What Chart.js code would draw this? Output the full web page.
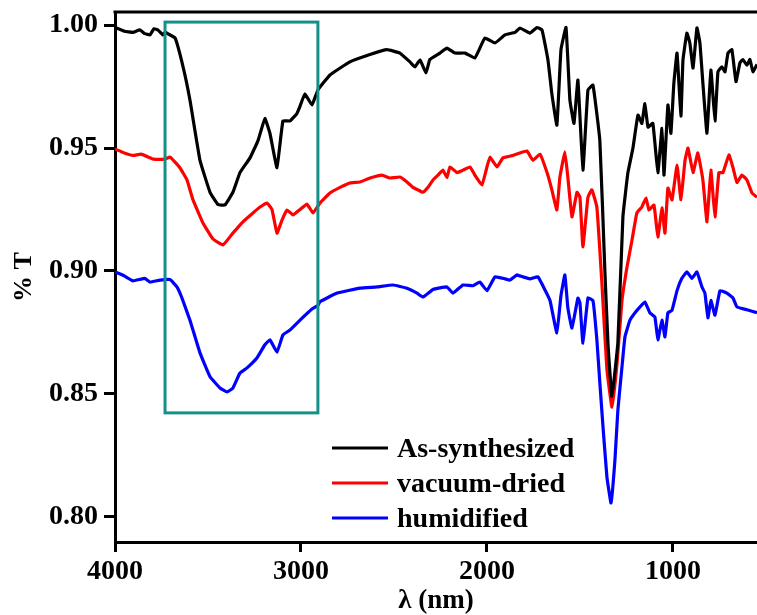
<!DOCTYPE html>
<html lang="en">
<head>
    <meta charset="UTF-8">
    <title>% T spectra</title>
    <script src="https://cdn.jsdelivr.net/npm/chart.js"></script>
    <style>
        html, body { margin: 0; padding: 0; background: #fff; }
        #wrap { width: 757px; height: 615px; }
    </style>
</head>
<body>
<div id="wrap"><canvas id="spectra" width="757" height="615"></canvas></div>
<script>
    // wavenumber / transmittance
    const seriesNames = ['As-synthesized', 'vacuum-dried', 'humidified'];
    const seriesColors = ['#000000', '#ff0000', '#0000ff'];

    const wnBlack = [4000, 3950, 3903, 3866, 3840, 3812, 3790, 3769, 3742, 3731, 3677, 3634, 3597, 3543, 3489, 3446, 3409, 3366, 3328, 3274, 3231, 3194, 3167, 3129, 3097, 3059, 3022, 3005, 2979, 2941, 2909, 2844, 2737, 2629, 2538, 2468, 2414, 2387, 2360, 2328, 2307, 2253, 2215, 2172, 2118, 2065, 2011, 1957, 1903, 1849, 1823, 1769, 1731, 1704, 1672, 1651, 1624, 1602, 1575, 1554, 1532, 1511, 1484, 1457, 1430, 1393, 1366, 1349, 1328, 1296, 1269, 1242, 1215, 1188, 1167, 1151, 1134, 1108, 1081, 1059, 1048, 1027, 1011, 995, 978, 957, 946, 925, 909, 892, 871, 855, 839, 817, 796, 774, 758, 737, 720, 704, 683, 661, 640, 624, 602, 586, 570, 548];
    const tBlack = [0.999, 0.9975, 0.997, 0.998, 0.9965, 0.996, 0.9985, 0.998, 0.996, 0.997, 0.9947, 0.983, 0.9695, 0.945, 0.932, 0.927, 0.9268, 0.932, 0.940, 0.946, 0.953, 0.962, 0.956, 0.942, 0.961, 0.961, 0.964, 0.967, 0.972, 0.9675, 0.9736, 0.9797, 0.985, 0.988, 0.990, 0.9886, 0.985, 0.983, 0.9858, 0.9805, 0.986, 0.9886, 0.9906, 0.9886, 0.9886, 0.9866, 0.9947, 0.9927, 0.996, 0.997, 0.9988, 0.9967, 0.999, 0.998, 0.9858, 0.972, 0.9593, 0.990, 0.999, 0.9695, 0.960, 0.9776, 0.941, 0.9736, 0.9756, 0.953, 0.900, 0.870, 0.849, 0.871, 0.922, 0.940, 0.950, 0.9634, 0.960, 0.968, 0.9585, 0.960, 0.940, 0.958, 0.939, 0.9675, 0.956, 0.9764, 0.9886, 0.963, 0.9858, 0.9967, 0.9927, 0.9825, 0.9988, 0.9927, 0.9764, 0.956, 0.9817, 0.961, 0.981, 0.983, 0.981, 0.9886, 0.990, 0.977, 0.9846, 0.986, 0.9837, 0.986, 0.981, 0.984];

    const wnRed = [4000, 3950, 3903, 3860, 3812, 3796, 3731, 3704, 3651, 3613, 3581, 3527, 3473, 3419, 3366, 3312, 3258, 3220, 3183, 3156, 3129, 3102, 3075, 3043, 3005, 2968, 2935, 2898, 2844, 2790, 2737, 2683, 2629, 2565, 2522, 2468, 2430, 2398, 2371, 2344, 2317, 2290, 2263, 2237, 2215, 2199, 2161, 2129, 2091, 2065, 2027, 2000, 1984, 1946, 1914, 1860, 1823, 1785, 1753, 1715, 1677, 1651, 1624, 1608, 1581, 1565, 1543, 1516, 1500, 1484, 1457, 1436, 1409, 1382, 1355, 1328, 1301, 1274, 1247, 1220, 1194, 1167, 1145, 1129, 1102, 1081, 1059, 1043, 1027, 1005, 978, 957, 935, 919, 892, 866, 839, 817, 796, 774, 753, 731, 699, 677, 656, 629, 602, 575, 548];
    const tRed = [0.9496, 0.948, 0.947, 0.9475, 0.946, 0.9455, 0.9455, 0.9463, 0.942, 0.937, 0.929, 0.9195, 0.913, 0.9106, 0.9154, 0.920, 0.9236, 0.926, 0.9276, 0.925, 0.9154, 0.9207, 0.9248, 0.9228, 0.925, 0.9272, 0.9236, 0.9276, 0.9317, 0.934, 0.9358, 0.9362, 0.9378, 0.939, 0.9378, 0.9382, 0.9362, 0.934, 0.933, 0.932, 0.934, 0.937, 0.939, 0.941, 0.938, 0.9423, 0.940, 0.941, 0.9423, 0.939, 0.935, 0.9423, 0.9463, 0.9423, 0.946, 0.947, 0.948, 0.9488, 0.945, 0.9475, 0.940, 0.933, 0.9248, 0.938, 0.9484, 0.938, 0.922, 0.932, 0.930, 0.9098, 0.930, 0.933, 0.926, 0.895, 0.860, 0.8447, 0.862, 0.888, 0.9016, 0.9126, 0.9236, 0.926, 0.9297, 0.9248, 0.9268, 0.9138, 0.9256, 0.9154, 0.9337, 0.9289, 0.943, 0.929, 0.945, 0.950, 0.940, 0.948, 0.937, 0.920, 0.941, 0.922, 0.940, 0.940, 0.9472, 0.942, 0.936, 0.939, 0.937, 0.9317, 0.930];

    const wnBlue = [4000, 3950, 3903, 3840, 3812, 3758, 3704, 3667, 3640, 3597, 3543, 3489, 3435, 3398, 3366, 3328, 3290, 3237, 3194, 3167, 3129, 3097, 3059, 3005, 2941, 2909, 2898, 2806, 2683, 2591, 2505, 2430, 2376, 2344, 2290, 2215, 2183, 2129, 2075, 2038, 2000, 1957, 1903, 1876, 1839, 1823, 1769, 1726, 1688, 1661, 1624, 1602, 1581, 1565, 1543, 1511, 1500, 1484, 1457, 1430, 1409, 1393, 1376, 1355, 1333, 1312, 1296, 1274, 1258, 1231, 1204, 1177, 1151, 1124, 1097, 1081, 1059, 1043, 1027, 1005, 978, 952, 925, 898, 871, 844, 828, 812, 796, 774, 747, 710, 677, 656, 602, 548];
    const tBlue = [0.8996, 0.898, 0.896, 0.897, 0.8955, 0.8963, 0.8965, 0.8935, 0.889, 0.880, 0.8667, 0.857, 0.8524, 0.8508, 0.8524, 0.8585, 0.8606, 0.8646, 0.870, 0.872, 0.867, 0.874, 0.876, 0.880, 0.8845, 0.886, 0.8875, 0.891, 0.893, 0.8935, 0.8943, 0.893, 0.891, 0.8894, 0.8925, 0.8935, 0.891, 0.8943, 0.894, 0.8955, 0.892, 0.8976, 0.8968, 0.8963, 0.8984, 0.898, 0.8968, 0.8976, 0.8923, 0.888, 0.8748, 0.890, 0.8984, 0.885, 0.8768, 0.889, 0.887, 0.8707, 0.889, 0.888, 0.872, 0.8545, 0.8366, 0.8163, 0.8057, 0.823, 0.8435, 0.861, 0.8732, 0.880, 0.883, 0.8854, 0.8874, 0.883, 0.8813, 0.872, 0.880, 0.8732, 0.883, 0.884, 0.892, 0.897, 0.8996, 0.897, 0.8996, 0.8935, 0.891, 0.881, 0.888, 0.882, 0.892, 0.891, 0.889, 0.8854, 0.8842, 0.883];

    const xTicks = [4000, 3000, 2000, 1000];
    const yTicks = [0.80, 0.85, 0.90, 0.95, 1.00];
    const xRange = [548, 4000];
    const yRange = [0.7898, 1.0053];

    // highlighted O-H region (teal box)
    const boxX = [3731, 2909];
    const boxY = [0.8423, 1.0012];

    const serif = "'Liberation Serif', 'Times New Roman', serif";

    function pairs(xs, ys) {
        return xs.map((x, i) => ({ x: x, y: ys[i] }));
    }

    const frameAndBox = {
        id: 'frameAndBox',
        afterDatasetsDraw(chart) {
            const ctx = chart.ctx;
            const a = chart.chartArea;
            const xs = chart.scales.x, ys = chart.scales.y;
            ctx.save();
            // top frame line
            ctx.strokeStyle = '#000';
            ctx.lineWidth = 3;
            ctx.beginPath();
            ctx.moveTo(a.left - 1.5, a.top);
            ctx.lineTo(a.right, a.top);
            ctx.stroke();
            // teal box
            const x1 = xs.getPixelForValue(boxX[0]), x2 = xs.getPixelForValue(boxX[1]);
            const y1 = ys.getPixelForValue(boxY[1]), y2 = ys.getPixelForValue(boxY[0]);
            ctx.strokeStyle = '#14908a';
            ctx.lineWidth = 3;
            ctx.strokeRect(x1, y1, x2 - x1, y2 - y1);
            ctx.restore();
        }
    };

    const legendBox = {
        id: 'legendBox',
        afterDraw(chart) {
            const ctx = chart.ctx;
            const a = chart.chartArea;
            const lx = a.left + 217, lw = 56, top = a.top + 436, gap = 35;
            ctx.save();
            ctx.font = 'bold 28px ' + serif;
            ctx.textBaseline = 'alphabetic';
            ctx.textAlign = 'left';
            chart.data.datasets.forEach((ds, i) => {
                const y = top + i * gap;
                ctx.strokeStyle = ds.borderColor;
                ctx.lineWidth = 3;
                ctx.beginPath();
                ctx.moveTo(lx, y);
                ctx.lineTo(lx + lw, y);
                ctx.stroke();
                ctx.fillStyle = '#000';
                ctx.fillText(ds.label, lx + lw + 9, y + 9);
            });
            ctx.restore();
        }
    };

    const tickFont = { family: serif, size: 28, weight: 'bold' };

    new Chart(document.getElementById('spectra'), {
        type: 'line',
        data: {
            datasets: [
                { label: seriesNames[0], data: pairs(wnBlack, tBlack), borderColor: seriesColors[0] },
                { label: seriesNames[1], data: pairs(wnRed, tRed), borderColor: seriesColors[1] },
                { label: seriesNames[2], data: pairs(wnBlue, tBlue), borderColor: seriesColors[2] }
            ]
        },
        options: {
            responsive: false,
            animation: false,
            layout: { padding: { top: 12, right: 0, left: 0, bottom: 0 } },
            elements: {
                line: { borderWidth: 3.2, tension: 0.1, fill: false },
                point: { radius: 0 }
            },
            plugins: {
                legend: { display: false },
                tooltip: { enabled: false }
            },
            scales: {
                x: {
                    type: 'linear',
                    reverse: true,
                    min: xRange[0],
                    max: xRange[1],
                    afterBuildTicks: s => { s.ticks = xTicks.map(v => ({ value: v })); },
                    afterFit: s => { s.height = 73; s.paddingLeft = 0; s.paddingRight = 0; },
                    grid: { drawOnChartArea: false, drawTicks: true, tickLength: 10, tickWidth: 3, tickColor: '#000' },
                    border: { display: true, color: '#000', width: 3 },
                    ticks: { color: '#000', font: tickFont, padding: 3, maxRotation: 0, callback: v => String(v) },
                    title: { display: true, text: 'λ (nm)', color: '#000', font: { family: serif, size: 27, weight: 'bold', lineHeight: 1 }, padding: 0 }
                },
                y: {
                    min: yRange[0],
                    max: yRange[1],
                    afterBuildTicks: s => { s.ticks = yTicks.map(v => ({ value: v })); },
                    afterFit: s => { s.width = 115; s.paddingTop = 0; s.paddingBottom = 0; },
                    grid: { drawOnChartArea: false, drawTicks: true, tickLength: 11, tickWidth: 3, tickColor: '#000' },
                    border: { display: true, color: '#000', width: 3 },
                    ticks: { color: '#000', font: tickFont, padding: 6, callback: v => Number(v).toFixed(2) },
                    title: { display: true, text: '% T', color: '#000', font: { family: serif, size: 26, weight: 'bold' }, padding: { top: 9 } }
                }
            }
        },
        plugins: [frameAndBox, legendBox]
    });
</script>
</body>
</html>
